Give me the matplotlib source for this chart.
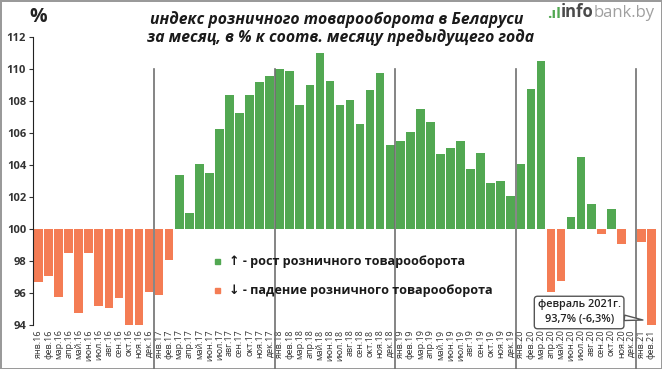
import matplotlib.pyplot as plt
from matplotlib.patches import Rectangle

# monthly retail turnover index, % to same month of previous year
months = ['янв', 'фев', 'мар', 'апр', 'май', 'июн',
          'июл', 'авг', 'сен', 'окт', 'ноя', 'дек']
years = ['16', '17', '18', '19', '20', '21']

v2016 = [96.7, 97.1, 95.8, 98.5, 94.8, 98.5, 95.2, 95.1, 95.7, 94.0, 94.0, 96.1]
v2017 = [95.9, 98.1, 103.4, 101.0, 104.1, 103.5, 106.3, 108.4, 107.3, 108.4, 109.2, 109.6]
v2018 = [110.0, 109.9, 107.8, 109.0, 111.0, 109.3, 107.8, 108.1, 106.6, 108.7, 109.8, 105.3]
v2019 = [105.5, 106.1, 107.5, 106.7, 104.7, 105.1, 105.5, 103.8, 104.8, 102.9, 103.0, 102.1]
v2020 = [104.1, 108.8, 110.5, 96.1, 96.8, 100.8, 104.5, 101.6, 99.7, 101.3, 99.1, 100.0]
v2021 = [99.2, 93.7]

values = v2016 + v2017 + v2018 + v2019 + v2020 + v2021
labels = [m + '.' + y for y in years for m in months][:len(values)]

green = '#52A852'
red = '#F47C54'

plt.rcParams['font.family'] = ['Open Sans', 'DejaVu Sans']

fig = plt.figure(figsize=(6.62, 3.69), dpi=100)
fig.patch.set_edgecolor('#9a9a9a')
fig.patch.set_linewidth(2)
ax = fig.add_axes([33 / 662, 1 - 325.3 / 369, 624 / 662, 288 / 369])

x = list(range(len(values)))
heights = [v - 100 for v in values]
colors = [green if v >= 100 else red for v in values]
ax.bar(x, heights, bottom=100, width=0.86, color=colors)

ax.set_ylim(94, 112)
ax.set_xlim(-0.55, len(values) - 0.45)
ax.set_yticks(range(94, 113, 2))
ax.tick_params(axis='y', direction='out', length=3, labelsize=8, colors='#333333', pad=2)
for t in ax.get_yticklabels():
    t.set_fontweight('bold')
ax.set_xticks(x)
ax.set_xticklabels(labels, rotation=90, fontsize=6.5, color='#333333')
ax.tick_params(axis='x', length=0, pad=3)
for s in ['top', 'right', 'bottom']:
    ax.spines[s].set_visible(False)
ax.spines['left'].set_color('#222222')

# year separators
for b in [11.5, 23.5, 35.5, 47.5, 59.5]:
    ax.axvline(b, ymin=-0.16, ymax=0.889, color='#707070', lw=1.2, clip_on=False)

# titles
fig.text(0.508, 0.946, 'индекс розничного товарооборота в Беларуси',
         ha='center', va='center', fontsize=11.3, fontweight='bold',
         style='italic', color='#1a1a1a')
fig.text(0.514, 0.898, 'за месяц, в % к соотв. месяцу предыдущего года',
         ha='center', va='center', fontsize=11.3, fontweight='bold',
         style='italic', color='#1a1a1a')
fig.text(0.057, 0.955, '%', ha='center', va='center', fontsize=14,
         fontweight='bold', color='#222222')

# logo
t1 = fig.text(0.826, 0.963, '.ıl', ha='left', va='center', fontsize=11,
              fontweight='bold', color=green)
t2 = ax.annotate('info', xy=(1, 0), xycoords=t1, va='bottom', ha='left',
                 fontsize=12, fontweight='bold', color='#4a4a4a')
ax.annotate('bank.by', xy=(1, 0), xycoords=t2, va='bottom', ha='left',
            fontsize=12, color='#a0a0a0')

# legend
ax.add_patch(Rectangle((17.6, 97.84), 0.5, 0.32, color=green, clip_on=False))
ax.add_patch(Rectangle((17.6, 96.04), 0.5, 0.32, color=red, clip_on=False))
ax.text(19.0, 98.0, '↑ - рост розничного товарооборота', va='center',
        fontsize=9.1, fontweight='bold', color='#1a1a1a')
ax.text(19.0, 96.2, '↓ - падение розничного товарооборота', va='center',
        fontsize=9.1, fontweight='bold', color='#1a1a1a')

# callout
ax.annotate('февраль 2021г.\n93,7% (-6,3%)', xy=(60.15, 94.33), xytext=(53.8, 94.8),
            ha='center', va='center', fontsize=7.8, fontweight='semibold',
            color='#222222', linespacing=1.5,
            bbox=dict(boxstyle='round,pad=0.3', fc='white', ec='#555555', lw=1),
            arrowprops=dict(arrowstyle='wedge,tail_width=0.5', fc='white',
                            ec='#555555', lw=1, shrinkA=0, shrinkB=0))

fig.savefig('out.png', dpi=100)
